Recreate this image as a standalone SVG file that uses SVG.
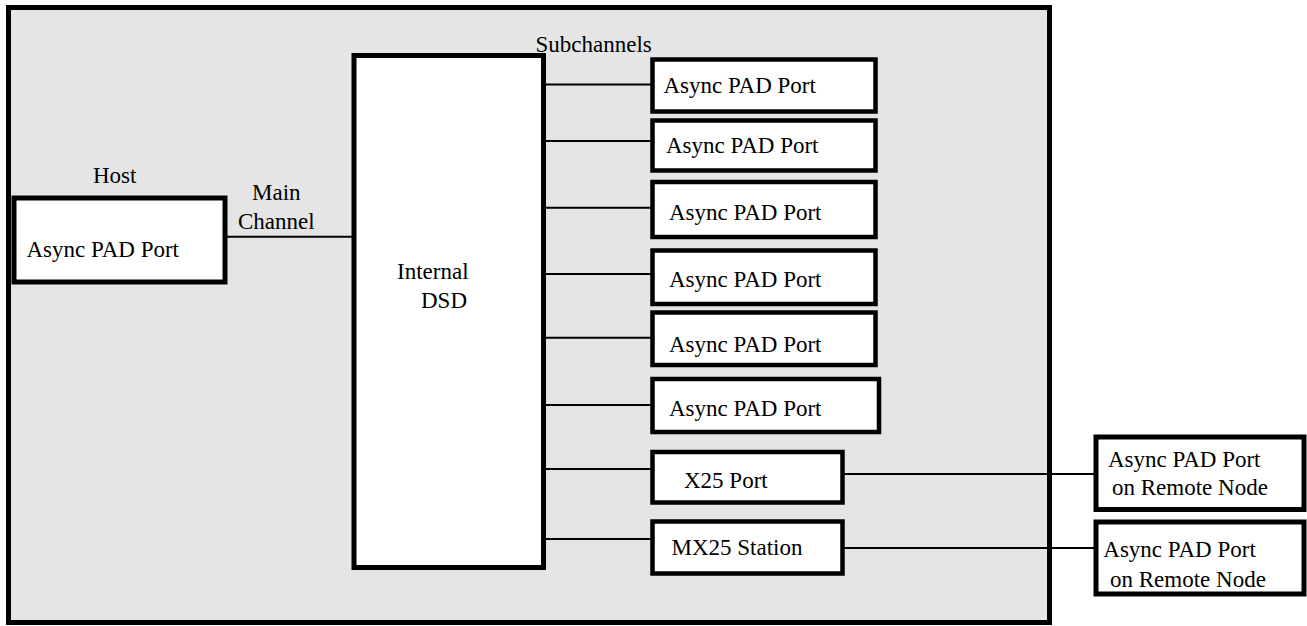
<svg xmlns="http://www.w3.org/2000/svg" width="1307" height="626" viewBox="0 0 1307 626">
<style>
.t{font-family:"Liberation Serif","Times New Roman",serif;font-size:23px;fill:#000}
.box{fill:#fff;stroke:#000;stroke-width:4.5}
.big{fill:#fff;stroke:#000;stroke-width:5}
.ln{stroke:#000;stroke-width:2;fill:none}
</style>
<rect width="1307" height="626" fill="#fff"/>
<g id="frame">
<rect x="8.5" y="7.5" width="1041" height="615" fill="#e5e5e5" stroke="#000" stroke-width="5"/>
</g>
<g id="connectors">
<line class="ln" x1="226" y1="236.7" x2="354" y2="236.7"/>
<line class="ln" x1="545" y1="84.5" x2="653" y2="84.5"/>
<line class="ln" x1="545" y1="141" x2="653" y2="141"/>
<line class="ln" x1="545" y1="207.7" x2="653" y2="207.7"/>
<line class="ln" x1="545" y1="274" x2="653" y2="274"/>
<line class="ln" x1="545" y1="337.7" x2="653" y2="337.7"/>
<line class="ln" x1="545" y1="405" x2="653" y2="405"/>
<line class="ln" x1="540" y1="469" x2="652" y2="469"/>
<line class="ln" x1="540" y1="539" x2="652" y2="539"/>
<line class="ln" x1="843" y1="474" x2="1096" y2="474"/>
<line class="ln" x1="840" y1="548" x2="1096" y2="548"/>
</g>
<g id="labels">
<text class="t" x="535.5" y="52.3">Subchannels</text>
<text class="t" x="93" y="183.3">Host</text>
<text class="t" x="252" y="200">Main</text>
<text class="t" x="238" y="228.5">Channel</text>
</g>
<g id="host">
<rect class="big" x="14" y="198" width="211" height="84"/>
<text class="t" x="26.5" y="256.7">Async PAD Port</text>
</g>
<g id="dsd">
<rect class="big" x="354" y="55.5" width="189.5" height="512"/>
<text class="t" x="397" y="279">Internal</text>
<text class="t" x="421" y="308">DSD</text>
</g>
<g id="port1">
<rect class="box" x="652.5" y="59.5" width="223" height="52"/>
<text class="t" x="663.4" y="93">Async PAD Port</text>
</g>
<g id="port2">
<rect class="box" x="652.5" y="120.5" width="223" height="50"/>
<text class="t" x="666" y="153">Async PAD Port</text>
</g>
<g id="port3">
<rect class="box" x="652.5" y="182" width="223" height="55"/>
<text class="t" x="669" y="220">Async PAD Port</text>
</g>
<g id="port4">
<rect class="box" x="652.5" y="250.5" width="223" height="53.5"/>
<text class="t" x="669" y="287">Async PAD Port</text>
</g>
<g id="port5">
<rect class="box" x="652.5" y="312.5" width="223" height="52.5"/>
<text class="t" x="669" y="352">Async PAD Port</text>
</g>
<g id="port6">
<rect class="box" x="652.5" y="379" width="226.5" height="53"/>
<text class="t" x="669" y="416">Async PAD Port</text>
</g>
<g id="x25">
<rect class="box" x="652.5" y="452" width="190" height="50.5"/>
<text class="t" x="684" y="488">X25 Port</text>
</g>
<g id="mx25">
<rect class="box" x="652.5" y="521.5" width="190" height="52"/>
<text class="t" x="671.5" y="555">MX25 Station</text>
</g>
<g id="remote1">
<rect class="big" x="1096" y="437" width="208" height="72.5"/>
<text class="t" x="1108" y="466.7">Async PAD Port</text>
<text class="t" x="1112" y="495">on Remote Node</text>
</g>
<g id="remote2">
<rect class="big" x="1096" y="522" width="208" height="72"/>
<text class="t" x="1103.3" y="557.3">Async PAD Port</text>
<text class="t" x="1110" y="586.7">on Remote Node</text>
</g>
</svg>
